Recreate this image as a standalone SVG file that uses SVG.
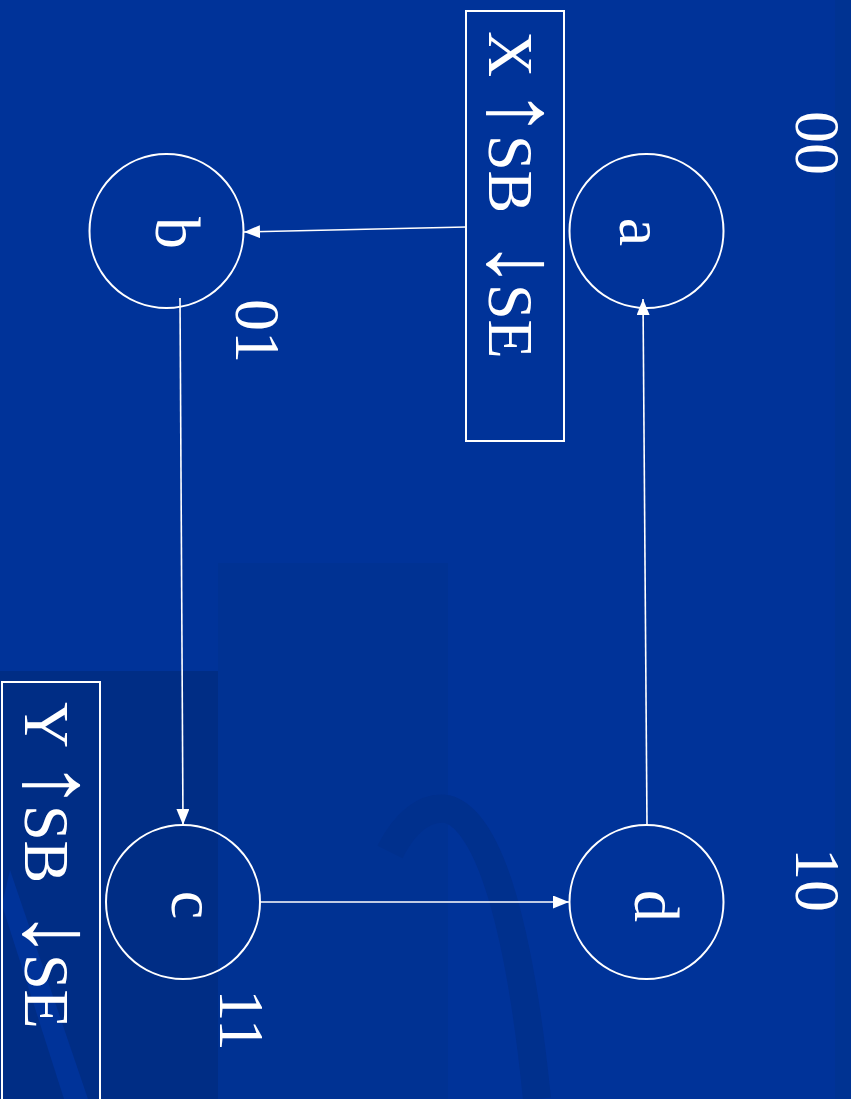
<svg xmlns="http://www.w3.org/2000/svg" width="851" height="1099" viewBox="0 0 851 1099">
<defs>
<style>
.t{font-family:"Liberation Serif","Times New Roman",serif;font-size:64px;fill:#ffffff;}
.ar{font-size:98px;}
.lbl{text-anchor:middle;}
.node{fill:none;stroke:#ffffff;stroke-width:2;}
.box{fill:none;stroke:#ffffff;stroke-width:2;}
.edge{fill:none;stroke:#ffffff;stroke-width:1.6;marker-end:url(#arr);}
</style>
<marker id="arr" markerUnits="userSpaceOnUse" markerWidth="17" markerHeight="14" refX="16" refY="6.5" orient="auto">
<path d="M0,0 L16,6.5 L0,13 z" fill="#ffffff"/>
</marker>
</defs>
<g id="background">
<rect x="0" y="0" width="851" height="1099" fill="#003399"/>
<rect x="835" y="0" width="16" height="1099" fill="#003392"/>
<rect x="218" y="563" width="230" height="536" fill="#003293"/>
<path d="M390,852 C405,822 425,806 447,809 C490,820 520,930 537,1099" fill="none" stroke="#00308D" stroke-width="28"/>
<rect x="0" y="671" width="218" height="428" fill="#002D85"/>
<path d="M10,870 L88,1099 L64,1099 L2,905 z" fill="#00359E" opacity="0.8"/>
</g>
<g id="connectors">
<line class="edge" x1="466" y1="227" x2="244" y2="232"/>
<line class="edge" x1="180" y1="298" x2="183" y2="825"/>
<line class="edge" x1="260" y1="902" x2="569" y2="902"/>
<line class="edge" x1="647" y1="826" x2="643" y2="299"/>
</g>
<g id="node-a">
<circle class="node" cx="646.5" cy="231" r="77"/>
<text class="t lbl" transform="translate(620,232) rotate(90)">a</text>
</g>
<g id="node-b">
<circle class="node" cx="166.5" cy="231" r="77"/>
<text class="t lbl" transform="translate(156,233) rotate(90)">b</text>
</g>
<g id="node-c">
<circle class="node" cx="183" cy="902" r="77"/>
<text class="t lbl" transform="translate(172,905) rotate(90)">c</text>
</g>
<g id="node-d">
<circle class="node" cx="646.5" cy="902" r="77"/>
<text class="t lbl" transform="translate(635,906) rotate(90)">d</text>
</g>
<g id="code-00"><text class="t lbl" transform="translate(796,143) rotate(90)">00</text></g>
<g id="code-01"><text class="t lbl" transform="translate(236,331) rotate(90)">01</text></g>
<g id="code-10"><text class="t lbl" transform="translate(796,880) rotate(90)">10</text></g>
<g id="code-11"><text class="t lbl" transform="translate(220,1020) rotate(90)">11</text></g>
<g id="action-x">
<rect class="box" x="466" y="11" width="98" height="430"/>
<text class="t" transform="translate(489,0) rotate(90)"><tspan x="31">X </tspan><tspan class="ar" x="89">↑</tspan><tspan x="135">SB </tspan><tspan class="ar" x="240">↓</tspan><tspan x="284">SE</tspan></text>
</g>
<g id="action-y">
<rect class="box" x="2" y="682" width="98" height="430"/>
<text class="t" transform="translate(25,0) rotate(90)"><tspan x="702">Y </tspan><tspan class="ar" x="761">↑</tspan><tspan x="805">SB </tspan><tspan class="ar" x="910">↓</tspan><tspan x="954">SE</tspan></text>
</g>
</svg>
